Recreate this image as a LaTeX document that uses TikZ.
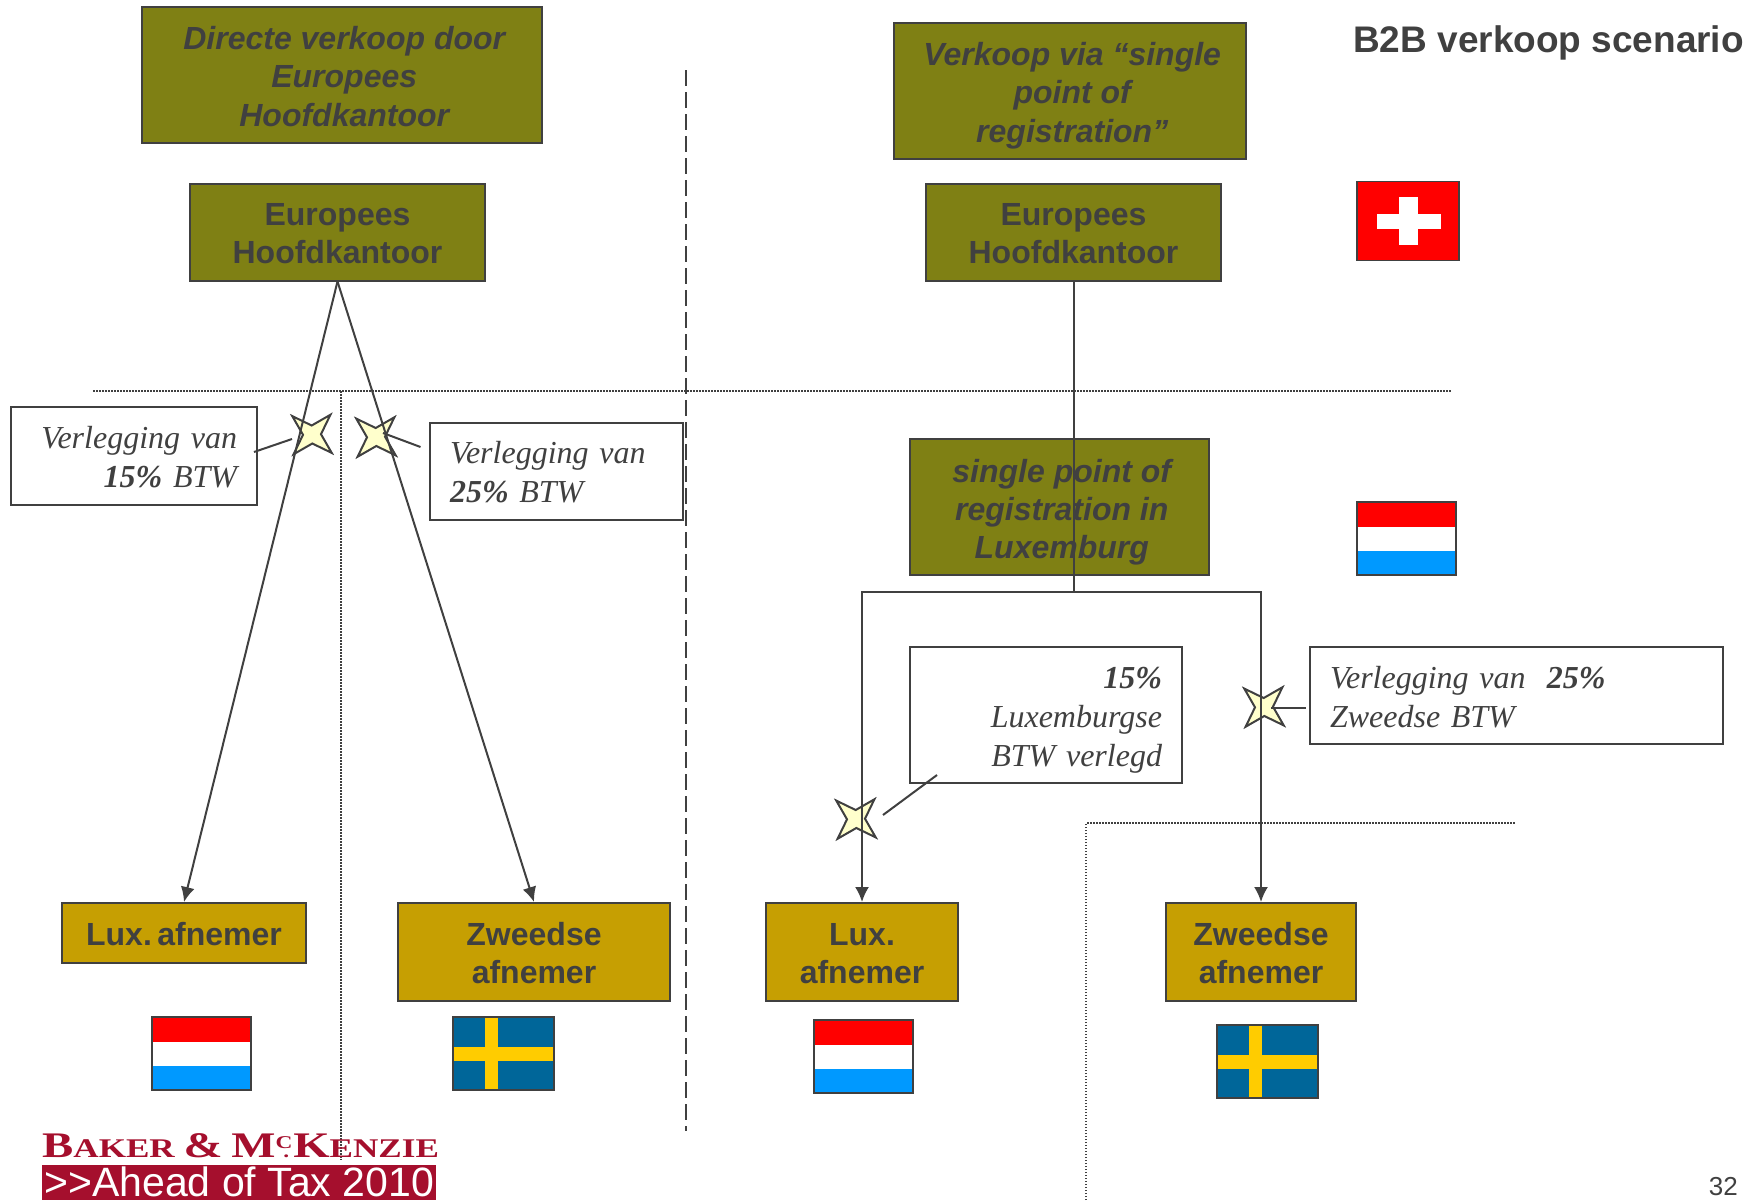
\documentclass[tikz,border=0pt]{standalone}
\usepackage{fontspec}
\usepackage{tikz}
\usetikzlibrary{shapes.geometric,arrows.meta}
\newfontfamily\boxfont{Liberation Sans}
\newfontfamily\notefont{Liberation Serif}
\newfontfamily\bakerfont[FakeStretch=1.3]{Liberation Serif}
\definecolor{inkgrey}{HTML}{404040}
\definecolor{hqolive}{HTML}{7F8014}
\definecolor{custgold}{HTML}{C69F02}
\definecolor{starcream}{HTML}{FFFFCC}
\definecolor{bakerred}{HTML}{A50F2D}
\definecolor{luxblue}{HTML}{0099FF}
\definecolor{seblue}{HTML}{006699}
\definecolor{seyellow}{HTML}{FFCC00}
\newcommand{\topstrut}[1]{\rule{0pt}{#1pt}}
\newcommand{\nudge}{\hspace*{4.5pt}}
\newcommand{\logocap}[1]{{\fontsize{36}{36}\selectfont #1}}
\newcommand{\luxflag}[2]{
\fill[red] (#1,#2) rectangle ++(99,24.5);
\fill[white] (#1,#2+24.5) rectangle ++(99,24.5);
\fill[luxblue] (#1,#2+49) rectangle ++(99,24);
\draw[flagframe] (#1,#2) rectangle ++(99,73);
}
\newcommand{\seflag}[2]{
\fill[seblue] (#1,#2) rectangle ++(101,73);
\fill[seyellow] (#1+32,#2) rectangle ++(13,73);
\fill[seyellow] (#1,#2+30) rectangle ++(101,14);
\draw[flagframe] (#1,#2) rectangle ++(101,73);
}
\begin{document}
\begin{tikzpicture}[x=1pt,y=-1pt]
\tikzstyle{flagframe}=[draw=inkgrey,line width=1.5pt];
\tikzstyle{hqbox}=[draw=inkgrey,fill=hqolive,line width=2pt,text=inkgrey,align=center,inner sep=0pt,font=\boxfont\fontsize{32}{38}\selectfont\bfseries];
\tikzstyle{hqtitle}=[hqbox,font=\boxfont\fontsize{32}{38.4}\selectfont\bfseries\itshape];
\tikzstyle{custbox}=[hqbox,fill=custgold];
\tikzstyle{notebox}=[draw=inkgrey,fill=white,line width=2pt,text=inkgrey,inner xsep=20pt,inner ysep=0pt,font=\notefont\fontsize{32}{39}\selectfont\itshape];
\tikzstyle{crossmark}=[draw=inkgrey,fill=starcream,line width=2pt,star,star points=4,star point ratio=3,shape border rotate=47,minimum size=54pt,inner sep=0pt];
\tikzstyle{link}=[draw=inkgrey,line width=2pt];
\tikzstyle{arrowlink}=[link,-{Latex[length=15pt,width=14pt]}];
\tikzstyle{finedots}=[draw=inkgrey,line width=1.1pt,dash pattern=on 1.5pt off 1.5pt];
\useasboundingbox (0,0) rectangle (1755,1200);

\draw[finedots] (93,391) -- (1452,391);
\draw[finedots] (341,391) -- (341,1160);
\draw[finedots] (1086,1200) -- (1086,823) -- (1516,823);
\draw[link,dash pattern=on 16pt off 6pt] (686,70) -- (686,1131);

\node[hqtitle,minimum width=400pt,minimum height=136pt] (directe) at (342,75) {\topstrut{26}\nudge Directe verkoop door\\\nudge Europees\\\nudge Hoofdkantoor};
\node[hqtitle,minimum width=352pt,minimum height=136pt] (viaspr) at (1070,91) {\topstrut{32.5}\nudge Verkoop via “single\\\nudge point of\\\nudge registration”};
\node[hqbox,minimum width=295pt,minimum height=97pt] (hkleft) at (337.5,232) {\topstrut{26}Europees\\Hoofdkantoor};
\node[hqbox,minimum width=295pt,minimum height=97pt] (hkright) at (1073.5,232) {\topstrut{26}Europees\\Hoofdkantoor};
\node[hqtitle,minimum width=299pt,minimum height=136pt] (spr) at (1059.5,507) {\topstrut{33.5}\nudge single point of\\\nudge registration in\\\nudge Luxemburg};

\node[custbox,minimum width=244pt,minimum height=60pt] (luxleft) at (184,933) {\topstrut{26}Lux.\hspace{5.5pt}afnemer};
\node[custbox,minimum width=272pt,minimum height=98pt] (zwleft) at (534,952) {\topstrut{26}Zweedse\\afnemer};
\node[custbox,minimum width=192pt,minimum height=98pt] (luxright) at (862,952) {\topstrut{26}Lux.\\afnemer};
\node[custbox,minimum width=190pt,minimum height=98pt] (zwright) at (1261,952) {\topstrut{26}Zweedse\\afnemer};

\node[notebox,text width=206pt,align=right,minimum height=98pt] (noteA) at (134,456) {\topstrut{24}Verlegging van\\\textbf{15\%} BTW};
\node[notebox,text width=213pt,align=left,minimum height=97pt] (noteB) at (556.5,471.5) {\topstrut{24}Verlegging van\\\textbf{25\%} BTW};
\node[notebox,text width=232pt,align=right,minimum height=136pt] (noteC) at (1046,715) {\topstrut{31}\textbf{15\%}\\Luxemburgse\\BTW verlegd};
\node[notebox,text width=373pt,align=left,minimum height=97pt] (noteD) at (1516.5,695.5) {\topstrut{25}Verlegging van\ \ \textbf{25\%}\\Zweedse BTW};

\node[crossmark] (crossA) at (312,434.5) {};
\node[crossmark] (crossB) at (376,437) {};
\node[crossmark] (crossC) at (856,819) {};
\node[crossmark] (crossD) at (1264,707) {};

\coordinate (bus) at (1073.5,592);
\coordinate (leadA1) at (254,452);
\coordinate (leadA2) at (292,439);
\coordinate (leadB1) at (383,433);
\coordinate (leadB2) at (420.5,447);
\coordinate (leadC1) at (883,815);
\coordinate (leadC2) at (937,775);
\coordinate (leadD1) at (1271,708);
\coordinate (leadD2) at (1306,708);

\draw[arrowlink] (hkleft.south) -- (luxleft.north);
\draw[arrowlink] (hkleft.south) -- (zwleft.north);
\draw[link] (hkright.south) -- (bus);
\draw[arrowlink] (bus) -| (luxright.north);
\draw[arrowlink] (bus) -| (zwright.north);
\draw[link] (leadA1) -- (leadA2);
\draw[link] (leadB1) -- (leadB2);
\draw[link] (leadC1) -- (leadC2);
\draw[link] (leadD1) -- (leadD2);

\node[anchor=base west,inner sep=0pt,text=inkgrey,font=\boxfont\fontsize{37}{44}\selectfont\bfseries] (scenario) at (1353,52) {B2B verkoop scenario};
\node[anchor=base east,inner sep=0pt,text=inkgrey,font=\boxfont\fontsize{26}{30}\selectfont] (pagenr) at (1738,1195) {32};

\fill[red] (1357,181.5) rectangle (1459,260.5);
\fill[white] (1399,197) rectangle (1418,245);
\fill[white] (1376.5,214) rectangle (1440.5,229);
\draw[flagframe] (1357,181.5) rectangle (1459,260.5);
\luxflag{1357}{502}
\luxflag{152}{1017}
\seflag{453}{1017}
\luxflag{814}{1020}
\seflag{1217}{1025}

\node[anchor=base west,inner sep=0pt,text=bakerred,text depth=0pt,font=\bakerfont\fontsize{27}{36}\selectfont\bfseries] (bakername) at (42,1157) {\logocap{B}AKER \logocap{\&} \logocap{M}\raisebox{9pt}{\fontsize{18}{18}\selectfont C}\hspace*{-9pt}{\fontsize{18}{18}\selectfont .}\hspace*{4pt}\logocap{K}ENZIE};
\node[anchor=north west,fill=bakerred,text=white,inner sep=0pt,minimum width=394pt,minimum height=35pt,text height=30pt,text depth=3pt,font=\boxfont\fontsize{41}{41}\selectfont] (aheadbar) at (42,1165) {>{}>Ahead of Tax 2010};
\end{tikzpicture}
\end{document}
